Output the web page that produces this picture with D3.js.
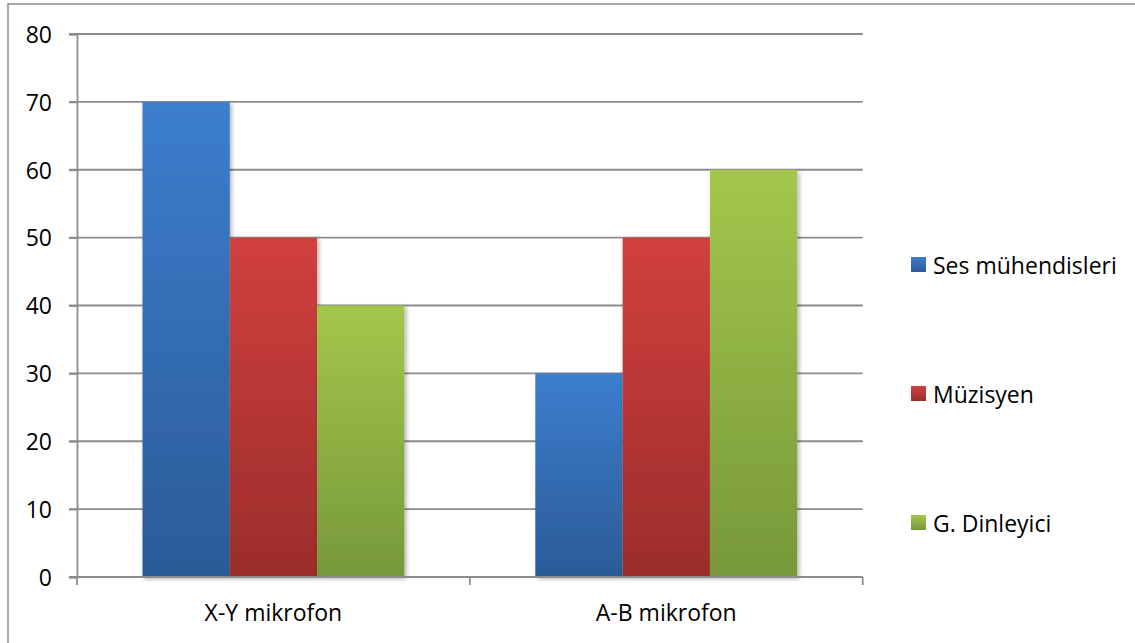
<!DOCTYPE html>
<html>
<head>
<meta charset="utf-8">
<script src="https://cdn.jsdelivr.net/npm/d3@7/dist/d3.min.js"></script>
<style>
  html, body { margin: 0; padding: 0; background: #fff; }
  svg { display: block; }
  text { font-family: "Open Sans", "Noto Sans", sans-serif; fill: #000; }
</style>
</head>
<body>
<svg id="chart" width="1135" height="643"></svg>
<script>
// Survey results per microphone technique
const categories = ["X-Y mikrofon", "A-B mikrofon"];
const seriesNames = ["Ses mühendisleri", "Müzisyen", "G. Dinleyici"];
const sesMuhendisleri = [70, 30];
const muzisyen = [50, 50];
const gDinleyici = [40, 60];
const yTicks = [0, 10, 20, 30, 40, 50, 60, 70, 80];

const seriesValues = [sesMuhendisleri, muzisyen, gDinleyici];
const colorTop = ["#3c7ecd", "#d1403e", "#a3c74c"];
const colorBottom = ["#2b5b97", "#9b2d2b", "#77983a"];

const svg = d3.select("#chart");
const plot = { left: 77, right: 862.7, top: 34, bottom: 577 };
const fontSize = "23px";

const defs = svg.append("defs");
seriesNames.forEach((n, i) => {
  const g = defs.append("linearGradient")
    .attr("id", "grad" + i).attr("x1", 0).attr("y1", 0).attr("x2", 0).attr("y2", 1);
  g.append("stop").attr("offset", "0%").attr("stop-color", colorTop[i]);
  g.append("stop").attr("offset", "100%").attr("stop-color", colorBottom[i]);
});
const shadow = defs.append("filter").attr("id", "shadow")
  .attr("x", "-10%").attr("y", "-10%").attr("width", "130%").attr("height", "130%");
shadow.append("feDropShadow").attr("dx", 2).attr("dy", 2)
  .attr("stdDeviation", 2).attr("flood-color", "#000").attr("flood-opacity", 0.3);

// outer frame (left and top edges visible)
svg.append("rect").attr("x", 8).attr("y", 4).attr("width", 1140).attr("height", 660)
  .attr("fill", "none").attr("stroke", "#8c8c8c").attr("stroke-width", 1.5);

const y = d3.scaleLinear().domain([0, 80]).range([plot.bottom, plot.top]);
const x0 = d3.scaleBand().domain(categories).range([plot.left, plot.right])
  .paddingInner(1 / 3).paddingOuter(1 / 6);
const x1 = d3.scaleBand().domain(seriesNames).range([0, x0.bandwidth()]);

// gridlines with left tick extension
svg.append("g").selectAll("line").data(yTicks.filter(d => d > 0)).join("line")
  .attr("x1", plot.left - 8).attr("x2", plot.right)
  .attr("y1", d => y(d)).attr("y2", d => y(d))
  .attr("stroke", "#8c8c8c").attr("stroke-width", 1.8);

// y axis
const yAxis = svg.append("g").attr("transform", `translate(${plot.left},0)`)
  .call(d3.axisLeft(y).tickValues(yTicks).tickSize(8).tickPadding(17));
yAxis.select(".domain").attr("stroke", "#8c8c8c").attr("stroke-width", 1.8);
yAxis.selectAll(".tick line").attr("stroke", "#8c8c8c").attr("stroke-width", 1.8);
yAxis.selectAll(".tick text").style("font-size", fontSize).attr("dy", "0.36em");

// bars
const groups = svg.append("g").selectAll("g").data(categories).join("g")
  .attr("transform", d => `translate(${x0(d)},0)`);
groups.selectAll("rect")
  .data((c, ci) => seriesNames.map((s, si) => ({ s, si, v: seriesValues[si][ci] })))
  .join("rect")
  .attr("x", d => x1(d.s))
  .attr("width", x1.bandwidth())
  .attr("y", d => y(d.v))
  .attr("height", d => y(0) - y(d.v))
  .attr("fill", d => `url(#grad${d.si})`)
  .attr("filter", "url(#shadow)");

// x axis with ticks between categories
const xBoundaries = [plot.left, (plot.left + plot.right) / 2, plot.right];
const xAxisG = svg.append("g");
xAxisG.append("line").attr("x1", plot.left - 8).attr("x2", plot.right)
  .attr("y1", plot.bottom).attr("y2", plot.bottom)
  .attr("stroke", "#8c8c8c").attr("stroke-width", 1.8);
xAxisG.selectAll("line.tk").data(xBoundaries).join("line").attr("class", "tk")
  .attr("x1", d => d).attr("x2", d => d)
  .attr("y1", plot.bottom).attr("y2", plot.bottom + 8)
  .attr("stroke", "#8c8c8c").attr("stroke-width", 1.8);
xAxisG.selectAll("text").data(categories).join("text")
  .attr("x", d => x0(d) + x0.bandwidth() / 2)
  .attr("y", 620.5)
  .attr("text-anchor", "middle")
  .style("font-size", fontSize)
  .text(d => d);

// legend
const legendY = [265, 394, 523];
const legend = svg.append("g").selectAll("g").data(seriesNames).join("g")
  .attr("transform", (d, i) => `translate(911,${legendY[i]})`);
legend.append("rect").attr("x", 0).attr("y", -8).attr("width", 15).attr("height", 15)
  .attr("fill", (d, i) => `url(#grad${i})`);
legend.append("text").attr("x", 22).attr("y", 8.5)
  .style("font-size", fontSize).text(d => d);
</script>
</body>
</html>
